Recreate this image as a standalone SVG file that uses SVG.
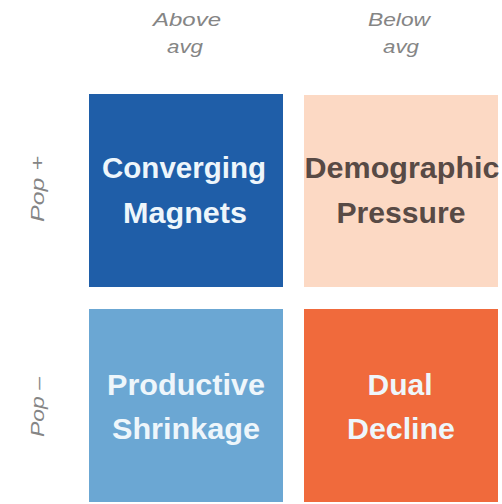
<svg xmlns="http://www.w3.org/2000/svg" width="502" height="504" viewBox="0 0 502 504">
<style>
.ax{font-family:"Liberation Sans",Arial,sans-serif;font-style:italic;font-size:19px;fill:#858585;text-anchor:middle}
.lb{font-family:"Liberation Sans",Arial,sans-serif;font-weight:bold;font-size:29px;text-anchor:middle}
.w{fill:#eef6fb}
.d{fill:#584a45}
</style>
<rect width="502" height="504" fill="#ffffff"/>
<g id="axis-labels">
<text class="ax" x="187" y="26" textLength="68" lengthAdjust="spacingAndGlyphs">Above</text>
<text class="ax" x="185" y="53" textLength="36" lengthAdjust="spacingAndGlyphs">avg</text>
<text class="ax" x="399" y="26" textLength="62" lengthAdjust="spacingAndGlyphs">Below</text>
<text class="ax" x="401" y="53" textLength="36" lengthAdjust="spacingAndGlyphs">avg</text>
<text class="ax" transform="translate(44,189) rotate(-90)" textLength="66" lengthAdjust="spacingAndGlyphs">Pop +</text>
<text class="ax" transform="translate(44,407) rotate(-90)" textLength="60" lengthAdjust="spacingAndGlyphs">Pop –</text>
</g>
<g id="converging-magnets">
<rect x="89" y="94" width="194" height="193" fill="#1f5ea8"/>
<text class="lb w" x="184" y="178" textLength="164" lengthAdjust="spacingAndGlyphs">Converging</text>
<text class="lb w" x="185" y="223" textLength="124" lengthAdjust="spacingAndGlyphs">Magnets</text>
</g>
<g id="demographic-pressure">
<rect x="304" y="95" width="194" height="192" fill="#fcd9c4"/>
<text class="lb d" x="402" y="178" textLength="195" lengthAdjust="spacingAndGlyphs">Demographic</text>
<text class="lb d" x="401" y="223" textLength="129" lengthAdjust="spacingAndGlyphs">Pressure</text>
</g>
<g id="productive-shrinkage">
<rect x="89" y="309" width="194" height="193" fill="#6ba7d3"/>
<text class="lb w" x="186" y="395" textLength="158" lengthAdjust="spacingAndGlyphs">Productive</text>
<text class="lb w" x="186" y="439" textLength="148" lengthAdjust="spacingAndGlyphs">Shrinkage</text>
</g>
<g id="dual-decline">
<rect x="304" y="309" width="194" height="193" fill="#f06a3c"/>
<text class="lb w" x="400" y="395" textLength="65" lengthAdjust="spacingAndGlyphs">Dual</text>
<text class="lb w" x="401" y="439" textLength="108" lengthAdjust="spacingAndGlyphs">Decline</text>
</g>
<g id="connectors"/>
</svg>
